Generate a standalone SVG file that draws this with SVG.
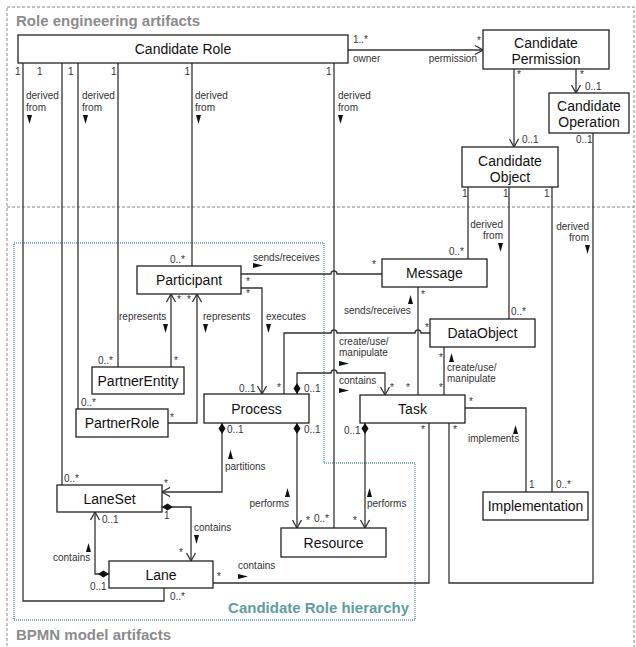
<svg xmlns="http://www.w3.org/2000/svg" width="636" height="647" viewBox="0 0 636 647">
  <style>
    .box { fill: #fff; stroke: #222; stroke-width: 1.3; }
    .n { font-family: "Liberation Sans", Arial, sans-serif; font-size: 14px; fill: #111; text-anchor: middle; }
    .s { font-family: "Liberation Sans", Arial, sans-serif; font-size: 10px; fill: #333; }
    .e { text-anchor: end; }
    .title { font-family: "Liberation Sans", Arial, sans-serif; font-size: 15px; font-weight: bold; fill: #8c8c8c; }
    .hier { font-family: "Liberation Sans", Arial, sans-serif; font-size: 15px; font-weight: bold; fill: #5f9ea0; text-anchor: end; }
    .c { fill: none; stroke: #333; stroke-width: 1.3; }
    .arr { marker-end: url(#open); }
    .dia { marker-start: url(#diamond); }
    .tri { fill: #111; }
  </style>
  <defs>
    <marker id="open" markerUnits="userSpaceOnUse" viewBox="-1 -6 10 12" markerWidth="10" markerHeight="12" refX="8" refY="0" orient="auto">
      <path d="M0,-4.5 L8,0 L0,4.5" fill="none" stroke="#333" stroke-width="1.3"/>
    </marker>
    <marker id="diamond" markerUnits="userSpaceOnUse" viewBox="-1 -5 14 10" markerWidth="14" markerHeight="10" refX="0" refY="0" orient="auto">
      <path d="M0,0 L5.5,-3.5 L11,0 L5.5,3.5Z" fill="#111"/>
    </marker>
    <path id="tdown" d="M0,0 H5 L2.5,9Z"/>
    <path id="tup" d="M2.5,0 L5,9 H0Z"/>
    <path id="tright" d="M0,0 L10,2.5 L0,5Z"/>
  </defs>

  <rect width="636" height="647" fill="#fff"/>

  <!-- frames -->
  <g id="frames">
    <rect x="7" y="7" width="627" height="660" fill="none" stroke="#888" stroke-width="1" stroke-dasharray="3,2"/>
    <line x1="7" y1="207" x2="634" y2="207" stroke="#888" stroke-width="1" stroke-dasharray="3,2"/>
    <path d="M14,243 H324 V463 H415 V620 H14 Z" fill="none" stroke="#5f9ea0" stroke-width="1.4" stroke-dasharray="1,1"/>
    <text class="title" x="16" y="26">Role engineering artifacts</text>
    <text class="title" x="16" y="640">BPMN model artifacts</text>
    <text class="hier" x="409" y="613">Candidate Role hierarchy</text>
  </g>

  <!-- connectors -->
  <g id="connectors">
    <!-- Candidate Role to Candidate Permission -->
    <path class="c arr" d="M348,50 H483"/>
    <text class="s" x="353" y="43">1..*</text>
    <text class="s" x="353" y="62">owner</text>
    <text class="s" x="477" y="44">*</text>
    <text class="s e" x="477" y="62">permission</text>

    <!-- Candidate Permission to Object / Operation -->
    <path class="c arr" d="M514,69 V147"/>
    <text class="s" x="517" y="78">*</text>
    <text class="s" x="522" y="143">0..1</text>
    <path class="c arr" d="M576,69 V93"/>
    <text class="s" x="580" y="78">*</text>
    <text class="s" x="585" y="90">0..1</text>

    <!-- Candidate Role derivations -->
    <path class="c" d="M23,63 V601 H164 V588"/>
    <path class="c" d="M62,63 V485"/>
    <path class="c" d="M78,63 V409"/>
    <path class="c" d="M118,63 V367"/>
    <path class="c" d="M192,63 V266"/>
    <path class="c" d="M334,63 V528"/>
    <text class="s" x="15" y="75">1</text>
    <text class="s" x="37" y="75">1</text>
    <text class="s" x="68" y="75">1</text>
    <text class="s" x="111" y="75">1</text>
    <text class="s" x="184.5" y="75">1</text>
    <text class="s" x="326" y="75">1</text>
    <text class="s" x="26" y="99">derived</text>
    <text class="s" x="26" y="111">from</text>
    <use href="#tdown" x="27" y="115" class="tri"/>
    <text class="s" x="82" y="99">derived</text>
    <text class="s" x="82" y="111">from</text>
    <use href="#tdown" x="83" y="115" class="tri"/>
    <text class="s" x="195" y="99">derived</text>
    <text class="s" x="195" y="111">from</text>
    <use href="#tdown" x="196" y="115" class="tri"/>
    <text class="s" x="338" y="99">derived</text>
    <text class="s" x="338" y="111">from</text>
    <use href="#tdown" x="338" y="115" class="tri"/>
    <text class="s" x="170" y="600">0..*</text>
    <text class="s" x="64" y="482">0..*</text>
    <text class="s" x="81" y="406">0..*</text>
    <text class="s" x="98" y="364">0..*</text>
    <text class="s" x="170" y="263">0..*</text>
    <text class="s" x="314" y="522">0..*</text>

    <!-- Candidate Object derivations -->
    <path class="c" d="M468,187 V259"/>
    <path class="c" d="M509,187 V319"/>
    <path class="c" d="M552,187 V492"/>
    <text class="s" x="462" y="197">1</text>
    <text class="s" x="503" y="197">1</text>
    <text class="s" x="544" y="197">1</text>
    <text class="s e" x="503" y="228">derived</text>
    <text class="s e" x="503" y="239">from</text>
    <use href="#tdown" x="498" y="243" class="tri"/>
    <text class="s" x="449" y="255">0..*</text>
    <text class="s" x="511" y="315">0..*</text>
    <text class="s" x="556" y="488">0..*</text>

    <!-- Candidate Operation derivation -->
    <path class="c" d="M593,133 V583 H449 V423"/>
    <text class="s" x="576" y="143">0..1</text>
    <text class="s e" x="589" y="230">derived</text>
    <text class="s e" x="589" y="241">from</text>
    <use href="#tdown" x="585" y="245" class="tri"/>
    <text class="s" x="453" y="433">*</text>

    <!-- Participant sends/receives Message -->
    <path class="c" d="M241,274 H331 a3,3 0 0 1 6,0 H382"/>
    <text class="s" x="246" y="285">*</text>
    <text class="s" x="372" y="268">*</text>
    <text class="s" x="253" y="261">sends/receives</text>
    <use href="#tright" x="253" y="263" class="tri"/>

    <!-- Participant executes Process -->
    <path class="c arr" d="M241,288 H262 V394"/>
    <text class="s" x="246" y="297">*</text>
    <text class="s" x="266" y="320">executes</text>
    <use href="#tdown" x="266" y="324" class="tri"/>
    <text class="s" x="239" y="392">0..1</text>

    <!-- PartnerEntity represents Participant -->
    <path class="c arr" d="M171,367 V294"/>
    <text class="s" x="177" y="303">*</text>
    <text class="s" x="174" y="364">*</text>
    <text class="s" x="119" y="320">represents</text>
    <use href="#tdown" x="163" y="324" class="tri"/>

    <!-- PartnerRole represents Participant -->
    <path class="c arr" d="M168,423 H197 V294"/>
    <text class="s" x="170" y="421">*</text>
    <text class="s" x="187" y="303">*</text>
    <text class="s" x="203" y="320">represents</text>
    <use href="#tdown" x="203" y="324" class="tri"/>

    <!-- Process contains Task -->
    <path class="c dia arr" d="M297,394 V373 H331 a3,3 0 0 1 6,0 H385 V395"/>
    <text class="s" x="304" y="392">0..1</text>
    <text class="s" x="339" y="384">contains</text>
    <use href="#tright" x="339" y="388" class="tri"/>
    <text class="s" x="390" y="391">*</text>

    <!-- Process create/use/manipulate DataObject -->
    <path class="c" d="M284,394 V333 H331 a3,3 0 0 1 6,0 H415 a3,3 0 0 1 6,0 H430"/>
    <text class="s" x="277" y="391">*</text>
    <text class="s" x="425" y="331">*</text>
    <text class="s" x="339" y="345">create/use/</text>
    <text class="s" x="339" y="356">manipulate</text>
    <use href="#tright" x="339" y="361" class="tri"/>

    <!-- Task sends/receives Message -->
    <path class="c" d="M418,287 V395"/>
    <text class="s" x="421" y="298">*</text>
    <text class="s" x="406" y="391">*</text>
    <text class="s" x="344" y="314">sends/receives</text>
    <use href="#tup" x="408" y="295" class="tri"/>

    <!-- Task create/use/manipulate DataObject -->
    <path class="c" d="M444,347 V395"/>
    <text class="s" x="439" y="361">*</text>
    <text class="s" x="439" y="391">*</text>
    <text class="s" x="447" y="371">create/use/</text>
    <text class="s" x="447" y="382">manipulate</text>
    <use href="#tup" x="449" y="353" class="tri"/>

    <!-- Task implements Implementation -->
    <path class="c" d="M465,408 H526 V492"/>
    <text class="s" x="469" y="405">*</text>
    <text class="s" x="529" y="488">1</text>
    <text class="s" x="468" y="442">implements</text>
    <use href="#tup" x="513" y="425" class="tri"/>

    <!-- Task performs Resource -->
    <path class="c dia arr" d="M365,423 V528"/>
    <text class="s" x="344" y="434">0..1</text>
    <text class="s" x="353" y="524">*</text>
    <text class="s" x="367" y="507">performs</text>
    <use href="#tup" x="367" y="488" class="tri"/>

    <!-- Process performs Resource -->
    <path class="c dia arr" d="M297,423 V528"/>
    <text class="s" x="304" y="433">0..1</text>
    <text class="s" x="306" y="524">*</text>
    <text class="s e" x="289" y="507">performs</text>
    <use href="#tup" x="285" y="488" class="tri"/>

    <!-- Process partitions LaneSet -->
    <path class="c dia arr" d="M222,423 V492 H162"/>
    <text class="s" x="227" y="433">0..1</text>
    <text class="s" x="225" y="470">partitions</text>
    <use href="#tup" x="228" y="450" class="tri"/>
    <text class="s" x="164" y="487">*</text>

    <!-- LaneSet contains Lane -->
    <path class="c dia arr" d="M162,507 H191 V561"/>
    <text class="s" x="164" y="519">1</text>
    <text class="s" x="194" y="531">contains</text>
    <use href="#tdown" x="194" y="535" class="tri"/>
    <text class="s" x="179" y="556">*</text>

    <!-- Lane contains LaneSet -->
    <path class="c dia arr" d="M109,574 H95 V512"/>
    <text class="s" x="102" y="523">0..1</text>
    <text class="s" x="53" y="561">contains</text>
    <use href="#tup" x="86" y="543" class="tri"/>
    <text class="s" x="90" y="590">0..1</text>

    <!-- Lane contains Task -->
    <path class="c" d="M213,583 H429 V423"/>
    <text class="s" x="217" y="580">*</text>
    <text class="s" x="421" y="433">*</text>
    <text class="s" x="238" y="569">contains</text>
    <use href="#tright" x="238" y="574" class="tri"/>
  </g>

  <!-- role engineering nodes -->
  <g id="candidate-role">
    <rect class="box" x="18" y="35" width="330" height="28"/>
    <text class="n" x="183" y="54">Candidate Role</text>
  </g>
  <g id="candidate-permission">
    <rect class="box" x="483" y="30" width="126" height="39"/>
    <text class="n" x="546" y="48">Candidate</text>
    <text class="n" x="546" y="64">Permission</text>
  </g>
  <g id="candidate-operation">
    <rect class="box" x="549" y="93" width="80" height="40"/>
    <text class="n" x="589" y="111">Candidate</text>
    <text class="n" x="589" y="127">Operation</text>
  </g>
  <g id="candidate-object">
    <rect class="box" x="462" y="147" width="96" height="40"/>
    <text class="n" x="510" y="166">Candidate</text>
    <text class="n" x="510" y="182">Object</text>
  </g>

  <!-- BPMN nodes -->
  <g id="participant">
    <rect class="box" x="137" y="266" width="104" height="28"/>
    <text class="n" x="189" y="285">Participant</text>
  </g>
  <g id="message">
    <rect class="box" x="382" y="259" width="105" height="28"/>
    <text class="n" x="434.5" y="278">Message</text>
  </g>
  <g id="dataobject">
    <rect class="box" x="430" y="319" width="105" height="28"/>
    <text class="n" x="482.5" y="338">DataObject</text>
  </g>
  <g id="partnerentity">
    <rect class="box" x="92" y="367" width="92" height="27"/>
    <text class="n" x="138" y="385.5">PartnerEntity</text>
  </g>
  <g id="partnerrole">
    <rect class="box" x="76" y="409" width="92" height="28"/>
    <text class="n" x="122" y="428">PartnerRole</text>
  </g>
  <g id="process">
    <rect class="box" x="204" y="394" width="105" height="29"/>
    <text class="n" x="256.5" y="413.5">Process</text>
  </g>
  <g id="task">
    <rect class="box" x="360" y="395" width="105" height="28"/>
    <text class="n" x="412.5" y="414">Task</text>
  </g>
  <g id="implementation">
    <rect class="box" x="483" y="492" width="105" height="28"/>
    <text class="n" x="535.5" y="511">Implementation</text>
  </g>
  <g id="laneset">
    <rect class="box" x="57" y="485" width="105" height="27"/>
    <text class="n" x="109.5" y="503.5">LaneSet</text>
  </g>
  <g id="lane">
    <rect class="box" x="109" y="561" width="104" height="27"/>
    <text class="n" x="161" y="579.5">Lane</text>
  </g>
  <g id="resource">
    <rect class="box" x="281" y="528" width="105" height="29"/>
    <text class="n" x="333.5" y="547.5">Resource</text>
  </g>
</svg>
